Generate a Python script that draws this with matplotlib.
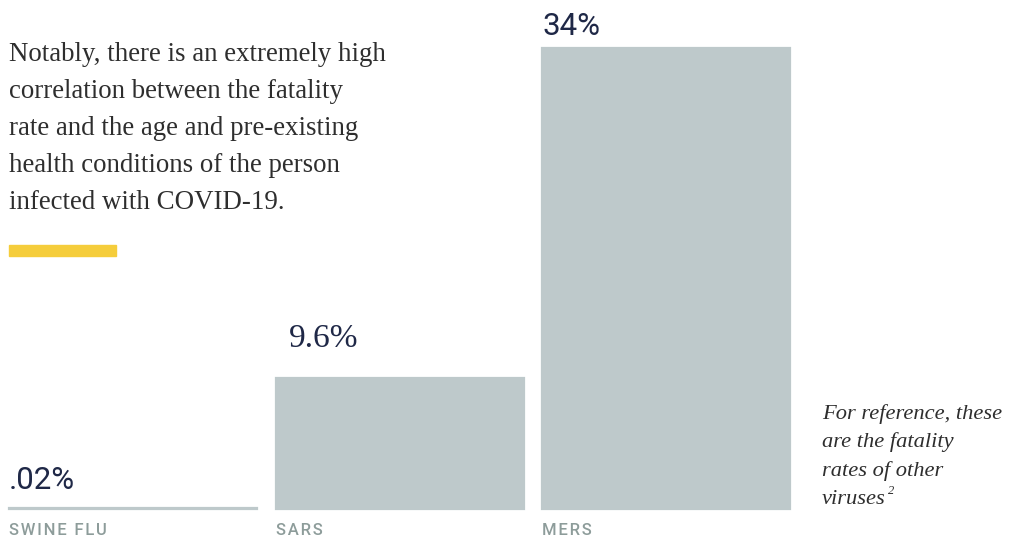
import matplotlib
matplotlib.use("Agg")
import matplotlib.pyplot as plt

# ---- data ----
categories = ["SWINE FLU", "SARS", "MERS"]
fatality_rates = [0.02, 9.6, 34]
value_labels = [".02%", "9.6%", "34%"]
paragraph_lines = [
    "Notably, there is an extremely high",
    "correlation between the fatality",
    "rate and the age and pre-existing",
    "health conditions of the person",
    "infected with COVID-19.",
]
note_lines = ["For reference, these", "are the fatality", "rates of other", "viruses"]
note_footnote = "2"

# ---- styles ----
W, H = 1010, 539
BAR_COLOR = "#bec9cb"
VALUE_COLOR = "#1f2847"
CAT_COLOR = "#8d9c9a"
TEXT_COLOR = "#2e2e2e"
YELLOW = "#f5cd3b"

fig = plt.figure(figsize=(W / 100, H / 100), dpi=100)

def fx(px):
    return px / W

def fy(py):
    return 1 - py / H

ax = fig.add_axes([0, 0, 1, 1])
spacing = 266.5
c0 = 133
ax.set_xlim((0 - c0) / spacing, (W - c0) / spacing)
base = 508.5
scale = (base - 48) / 34.0
ax.set_ylim(-(H - base) / scale, base / scale)
ax.axis("off")

x = list(range(len(categories)))
bw = 248 / spacing
ax.bar(x, fatality_rates, width=bw, color=BAR_COLOR,
       edgecolor=BAR_COLOR, linewidth=1.6)

# value labels (gap in points above bar top)
value_fonts = ["Roboto", "Liberation Serif", "Roboto"]
value_sizes = [22.5, 24, 22.5]
value_gaps = [13.5, 23, 9]
value_dx = [0, 13, 1]
for i, (v, lab) in enumerate(zip(fatality_rates, value_labels)):
    left = i - 0.5 * bw
    ax.annotate(lab, xy=(left, v), xytext=(value_dx[i] * 0.72, value_gaps[i]),
                textcoords="offset points", ha="left", va="baseline",
                fontsize=value_sizes[i], family=value_fonts[i],
                color=VALUE_COLOR)

# category labels, letter-spaced
for i, cat in enumerate(categories):
    left = i - 0.5 * bw
    ax.annotate("\u200a".join(cat), xy=(left, 0),
                xytext=(0, -19), textcoords="offset points",
                ha="left", va="baseline", fontsize=12, family="Roboto",
                fontweight="medium", color=CAT_COLOR)

# paragraph
for k, line in enumerate(paragraph_lines):
    fig.text(fx(9), fy(61 + 37 * k), line, ha="left", va="baseline",
             family="Liberation Serif", fontsize=19.4, color=TEXT_COLOR)

# yellow rule
fig.patches.append(plt.Rectangle((fx(9), fy(256)), fx(116) - fx(9), fy(245) - fy(256),
                                 transform=fig.transFigure, color=YELLOW))

# note
renderer = fig.canvas.get_renderer()
last = None
for k, line in enumerate(note_lines):
    last = fig.text(fx(822), fy(419 + 28.5 * k), line, ha="left", va="baseline",
                    family="Liberation Serif", style="italic", fontsize=16.2,
                    color=TEXT_COLOR)
bb = last.get_window_extent(renderer)
fig.text(fx(bb.x1 + 2), fy(419 + 28.5 * 3 - 10), note_footnote, ha="left",
         va="baseline", family="Liberation Serif", style="italic", fontsize=9,
         color=TEXT_COLOR)

fig.savefig("out.png", dpi=100)
